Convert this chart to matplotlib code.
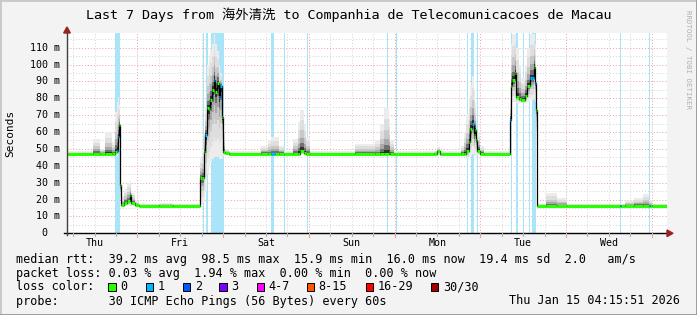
import matplotlib
matplotlib.use("Agg")
import matplotlib.pyplot as plt
import numpy as np

# hours since Thu Jan 8 00:00
t_start = 4.264
t_end = 172.264

# median rtt (ms), loss class (0 = none, 1 = one lost) and smoke envelope
hours = [4.3, 11.5, 13.5, 15.0, 17.0, 17.84, 18.3, 18.6, 18.96, 19.24,
         19.5, 20.1, 21.2, 21.95, 22.3, 23.2, 24.5, 30.0, 34.0, 41.6,
         42.1, 42.6, 43.0, 43.5, 44.0, 44.4, 45.0, 45.4, 45.8, 46.3,
         46.8, 47.2, 47.7, 48.0, 48.6, 49.5, 58.5, 60.5, 61.5, 62.4,
         63.5, 65.0, 67.5, 69.0, 69.6, 70.5, 71.3, 72.3, 84.8, 90.5,
         92.0, 93.0, 94.3, 94.8, 95.8, 107.0, 108.0, 108.6, 114.5, 115.5,
         116.1, 116.7, 117.2, 117.7, 118.1, 118.6, 118.9, 119.2, 120.0, 121.0,
         128.2, 128.7, 129.0, 129.8, 130.1, 130.7, 131.5, 132.6, 133.1, 134.0,
         134.6, 134.9, 135.2, 135.7, 135.9, 138.5, 141.5, 144.3, 159.1, 159.4,
         160.5, 163.0, 165.5, 167.2, 167.5, 168.2, t_end]
median = [47, 47, 47, 47, 47, 48, 49, 57, 64, 28.5,
          16.6, 18, 19, 22.5, 18, 16.6, 16.4, 16.4, 16.4, 32.6,
          32.6, 48, 58, 74, 73.6, 79, 85, 91, 84, 89,
          81, 87, 69, 48, 47.5, 47, 47, 47, 47, 47,
          47, 47, 47, 47, 49, 47.5, 47, 47, 47, 47,
          47, 47, 48, 47, 47, 47, 48.5, 47, 47, 47,
          49, 54, 62, 65, 58, 61, 55, 49, 47, 47,
          67, 87, 91, 95, 81, 79.4, 79, 81.5, 87, 92,
          92, 98.7, 89, 73, 16.2, 16.2, 16.2, 16.2, 16.4, 16.4,
          16.4, 16.4, 16.4, 16.4, 16.4, 16.4, 16.4]
loss = [0, 0, 0, 0, 0, 0, 1, 1, 0, 0,
        0, 0, 0, 0, 0, 0, 0, 0, 0, 0,
        0, 0, 1, 0, 0, 0, 0, 1, 0, 0,
        1, 1, 0, 0, 0, 0, 0, 0, 1, 0,
        0, 0, 0, 0, 0, 0, 0, 0, 0, 0,
        0, 0, 0, 0, 0, 0, 0, 0, 0, 0,
        0, 0, 0, 1, 0, 0, 0, 0, 0, 0,
        1, 0, 0, 0, 0, 0, 0, 0, 0, 1,
        1, 0, 1, 0, 0, 0, 0, 0, 1, 0,
        0, 0, 0, 1, 0, 0, 0]
smoke_lo = [46.5, 46.5, 46.5, 46.5, 46.5, 46.5, 46, 48, 50, 20,
            16, 16, 16, 16, 16, 16, 16, 16, 16, 18,
            18, 18, 25, 35, 40, 42, 44, 45, 45, 45,
            44, 44, 44, 46, 46.5, 46.5, 46.5, 46.5, 46.5, 46.5,
            46.5, 46.5, 46.5, 46.5, 46.5, 46.5, 46.5, 46.5, 46.5, 46.5,
            46.5, 46.5, 46.5, 46.5, 46.5, 46.5, 46.5, 46.5, 46.5, 46.5,
            44, 45, 46, 47, 46, 46, 46, 46.5, 46.5, 46.5,
            60, 78, 78, 78, 77, 77, 77, 77, 78, 79,
            79, 80, 78, 60, 16, 16, 16, 16, 16, 16,
            16, 16, 16, 16, 16, 16, 16]
smoke_hi = [48.5, 56, 50, 60, 54, 72, 78, 81, 76, 40,
            22, 26, 30, 31, 24, 19, 17.5, 18, 17.5, 45,
            50, 60, 75, 100, 105, 108, 112, 118, 112, 108,
            100, 95, 80, 60, 50, 48.5, 52, 55, 57, 57,
            52, 48.5, 56, 66, 73, 65, 57, 48.5, 53, 55,
            65, 75, 68, 55, 48.5, 49, 51, 48.5, 52, 60,
            70, 80, 88, 93, 85, 78, 68, 60, 52, 48.5,
            80, 112, 118, 118, 110, 100, 92, 100, 110, 118,
            118, 118, 112, 90, 17.5, 23.7, 21, 17.5, 17.5, 17.5,
            19, 21, 23, 20, 20, 17.5, 17.5]

# periods with packet loss (start, end) in hours
loss_start = [17.84, 42.39, 43.32, 44.72, 61.52, 64.9, 71.4, 93.8, 96.4, 116.3,
              117.5, 119.0, 128.5, 130.1, 132.0, 133.6, 134.6, 159.1, 167.2]
loss_end = [19.24, 42.67, 43.79, 48.16, 62.36, 65.2, 71.7, 94.1, 96.7, 116.6,
            118.2, 119.3, 128.8, 130.6, 132.2, 134.0, 135.6, 159.4, 167.5]

day_names = ["Thu", "Fri", "Sat", "Sun", "Mon", "Tue", "Wed"]
loss_labels = ["0", "1", "2", "3", "4-7", "8-15", "16-29", "30/30"]
loss_colors = ["#26ff00", "#00b8ff", "#0059ff", "#7e00ff",
               "#ff00ff", "#ff5500", "#ff0000", "#a10000"]

mono = ["DejaVu Sans Mono", "Noto Sans CJK SC"]
W, H = 697, 315
fig = plt.figure(figsize=(W / 100, H / 100), dpi=100, facecolor="#f3f3f3")
ax = fig.add_axes([67 / W, (H - 233.3) / H, 600 / W, 200.3 / H])
ax.set_facecolor("white")
ax.set_xlim(t_start, t_end)
ax.set_ylim(0, 118.7)

# grid
for v in np.arange(5, 118, 5):
    major = v % 10 == 0
    ax.axhline(v, color="#e8a0a0" if major else "#d4d4d4", lw=0.7,
               ls=(0, (1, 2)), zorder=0)
for h in np.arange(6, t_end, 6):
    if h < t_start:
        continue
    major = h % 24 == 0
    ax.axvline(h, color="#e8a0a0" if major else "#d4d4d4", lw=0.7,
               ls=(0, (1, 2)), zorder=0)

# loss background
for s, e in zip(loss_start, loss_end):
    ax.axvspan(s, e, color="#aae4f8", lw=0, zorder=1)

# smoke: layered envelopes, darker towards the median
t = np.array(hours)
med = np.array(median, dtype=float)
lo = np.array(smoke_lo, dtype=float)
hi = np.array(smoke_hi, dtype=float)
layers = [(1.0, "#ececec"), (0.75, "#dedede"), (0.5, "#c8c8c8"),
          (0.32, "#a8a8a8"), (0.18, "#707070"), (0.08, "#303030")]
for f, c in layers:
    ax.fill_between(t, med - f * (med - lo), med + f * (hi - med),
                    step="post", color=c, lw=0, zorder=2)

# median line
ax.plot(t, med, drawstyle="steps-post", color="black", lw=0.9, zorder=3)
for i in range(len(t) - 1):
    ax.hlines(med[i], t[i], t[i + 1], color=loss_colors[loss[i]],
              lw=2.2, zorder=4)

# axes
for sp in ax.spines.values():
    sp.set_visible(False)
ax.set_xticks([])
ax.set_yticks([])
tr = ax.transAxes
ax.plot([-0.005, 1.0], [0, 0], color="black", lw=1, transform=tr,
        clip_on=False, zorder=5)
ax.plot([0, 0], [-0.01, 1.01], color="#404040", lw=1, transform=tr,
        clip_on=False, zorder=5)
fig.patches.append(plt.Polygon([[667 / W, (H - 230) / H], [673 / W, (H - 233.3) / H],
                                [667 / W, (H - 236.6) / H]], closed=True,
                               color="#992222", transform=fig.transFigure))
fig.patches.append(plt.Polygon([[63.7 / W, (H - 33) / H], [67 / W, (H - 27) / H],
                                [70.3 / W, (H - 33) / H]], closed=True,
                               color="#992222", transform=fig.transFigure))

# x ticks and day labels
for h in np.arange(6, t_end, 6):
    if h < t_start:
        continue
    major = h % 24 == 0
    ax.plot([h, h], [0, -2.0 if major else -1.5], color="#e8a0a0" if major else "#b0b0b0",
            lw=0.8, clip_on=False, zorder=5)
for i, name in enumerate(day_names):
    ax.text(12 + 24 * i, -5.5, name, ha="center", va="center", fontsize=7.2,
            family=mono, color="black")

# y labels
for v in range(0, 111, 10):
    lab = f"{v} m" if v else "0  "
    fig.text(60 / W, (H - 233.3 + v * 1.687) / H, lab, ha="right", va="center",
             fontsize=7.2, family=mono)
fig.text(10 / W, (H - 133) / H, "Seconds", rotation=90, ha="center", va="center",
         fontsize=8, family=mono)

# title and credit
fig.text(0.5, 1 - 15 / H, "Last 7 Days from 海外清洗 to Companhia de Telecomunicacoes de Macau",
         ha="center", va="center", fontsize=9.6, family=mono)
fig.text(688 / W, 1 - 60 / H, "RRDTOOL / TOBI OETIKER", rotation=270, ha="center",
         va="center", fontsize=5.3, family=mono, color="#b0b0b0")

# legend
fs = 8.5
fig.text(16 / W, 1 - 259.3 / H,
         "median rtt:  39.2 ms avg  98.5 ms max  15.9 ms min  16.0 ms now  19.4 ms sd  2.0   am/s",
         ha="left", va="center", fontsize=fs, family=mono)
fig.text(16 / W, 1 - 273.3 / H,
         "packet loss: 0.03 % avg  1.94 % max  0.00 % min  0.00 % now",
         ha="left", va="center", fontsize=fs, family=mono)
fig.text(16 / W, 1 - 286.7 / H, "loss color:", ha="left", va="center",
         fontsize=fs, family=mono)
box_x = [108.3, 145.7, 182.7, 219.3, 256.7, 306.7, 365.7, 430.7]
for bx, lab, c in zip(box_x, loss_labels, loss_colors):
    fig.patches.append(plt.Rectangle((bx / W, (H - 290.5) / H), 7.5 / W, 7.5 / H,
                                     facecolor=c, edgecolor="black", lw=0.7,
                                     transform=fig.transFigure))
    fig.text((bx + 12) / W, 1 - 286.7 / H, lab, ha="left", va="center",
             fontsize=fs, family=mono)
fig.text(16 / W, 1 - 301 / H,
         "probe:       30 ICMP Echo Pings (56 Bytes) every 60s",
         ha="left", va="center", fontsize=fs, family=mono)
fig.text(680 / W, 1 - 301 / H, "Thu Jan 15 04:15:51 2026", ha="right",
         va="center", fontsize=fs, family=mono)

# frame
fig.patches.append(plt.Rectangle((0, 0), 1, 1, fill=False, edgecolor="#c8c8c8",
                                 lw=2, transform=fig.transFigure))
fig.lines.append(plt.Line2D([0, 1], [0.5 / H, 0.5 / H], color="#9a9a9a", lw=2,
                            transform=fig.transFigure))
fig.lines.append(plt.Line2D([1 - 0.5 / W, 1 - 0.5 / W], [0, 1], color="#9a9a9a", lw=2,
                            transform=fig.transFigure))

fig.savefig("out.png", dpi=100, facecolor=fig.get_facecolor())
